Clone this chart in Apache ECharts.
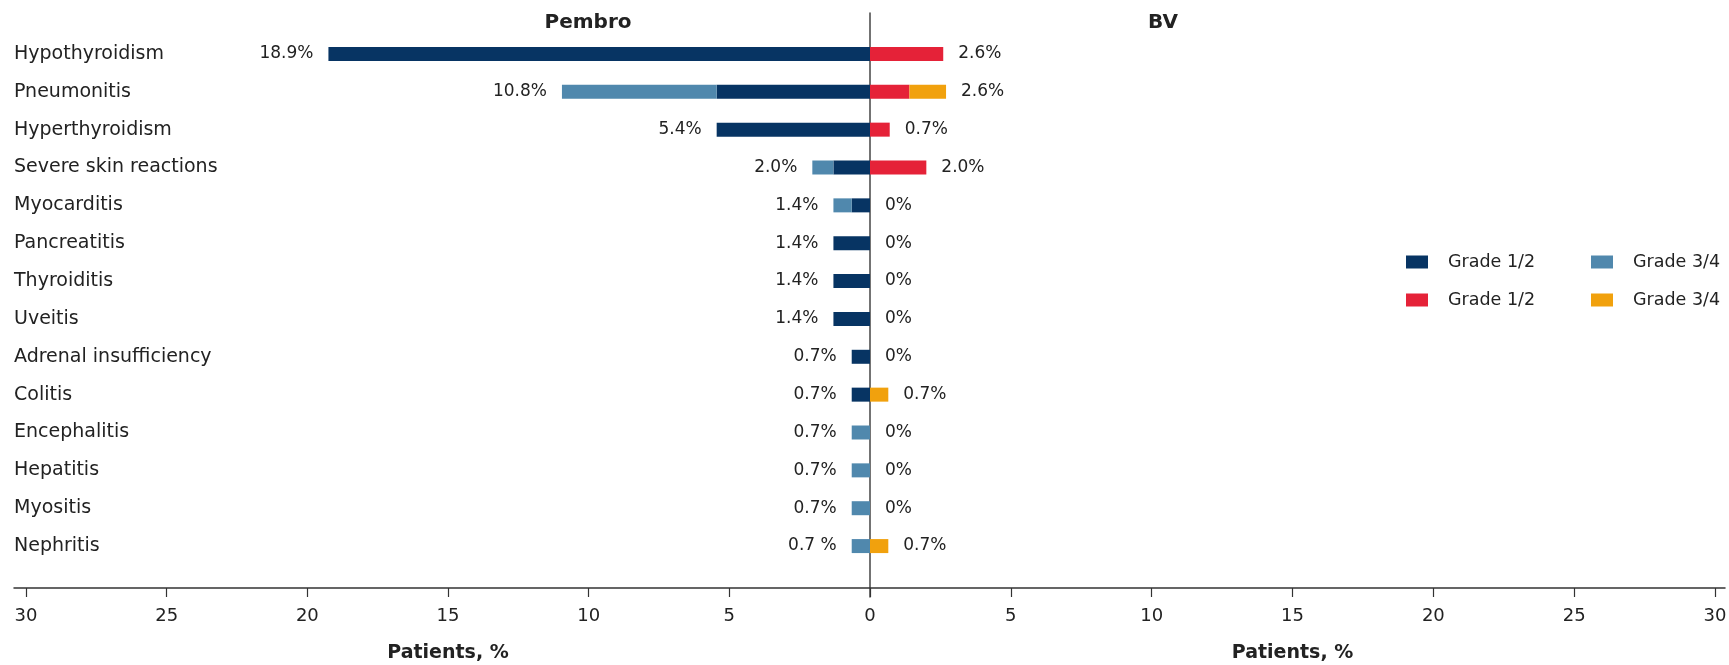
<!DOCTYPE html>
<html>
<head>
<meta charset="utf-8">
<script src="https://cdn.jsdelivr.net/npm/echarts@6/dist/echarts.min.js"></script>
<style>
html,body{margin:0;padding:0;background:#fff;}
#c{width:1729px;height:665px;}
</style>
</head>
<body>
<div id="c"></div>
<script>
var categories = ['Hypothyroidism','Pneumonitis','Hyperthyroidism','Severe skin reactions','Myocarditis','Pancreatitis','Thyroiditis','Uveitis','Adrenal insufficiency','Colitis','Encephalitis','Hepatitis','Myositis','Nephritis'];
var pembroG12 = [19.25, 5.45, 5.45, 1.3, 0.65, 1.3, 1.3, 1.3, 0.65, 0.65, 0, 0, 0, 0];
var pembroG34 = [0, 5.5, 0, 0.75, 0.65, 0, 0, 0, 0, 0, 0.65, 0.65, 0.65, 0.65];
var bvG12 = [2.6, 1.4, 0.7, 2.0, 0, 0, 0, 0, 0, 0, 0, 0, 0, 0];
var bvG34 = [0, 1.3, 0, 0, 0, 0, 0, 0, 0, 0.65, 0, 0, 0, 0.65];
var pembroLabels = ['18.9%','10.8%','5.4%','2.0%','1.4%','1.4%','1.4%','1.4%','0.7%','0.7%','0.7%','0.7%','0.7%','0.7 %'];
var bvLabels = ['2.6%','2.6%','0.7%','2.0%','0%','0%','0%','0%','0%','0.7%','0%','0%','0%','0.7%'];
var xTicks = [0, 5, 10, 15, 20, 25, 30];

var FONT = 'DejaVu Sans';
var TXT = '#222';
var C_NAVY = '#073463', C_LBLUE = '#5088ad', C_RED = '#e52238', C_ORANGE = '#f1a10d';
var legendNames = {P12:'Grade 1/2', P34:'Grade 3/4', B12:'Grade 1/2', B34:'Grade 3/4'};

var pembroTotal = pembroG12.map(function(v,i){return v + pembroG34[i];});
var bvTotal = bvG12.map(function(v,i){return v + bvG34[i];});

var chart = echarts.init(document.getElementById('c'));
var BW = 14;
var gridTop = 35, gridBottom = 100;

function valueAxis(idx, inverse, showMin){
  return {
    type:'value', gridIndex: idx, min: xTicks[0], max: xTicks[xTicks.length-1], interval: 5, inverse: inverse,
    offset: 23,
    axisLine:{show:false},
    axisTick:{show:true, length:9, lineStyle:{color:'#333', width:1.2}},
    axisLabel:{margin:19, fontSize:18, color:TXT, fontFamily:FONT, showMinLabel:showMin},
    splitLine:{show:false},
    name:'Patients, %', nameLocation:'middle', nameGap:56,
    nameTextStyle:{fontSize:19, fontWeight:'bold', color:TXT, fontFamily:FONT}
  };
}

var legendCommon = {orient:'vertical', top:253, padding:0, itemWidth:22, itemHeight:13, itemGap:20, icon:'rect',
  formatter:function(n){return legendNames[n];}, selectedMode:false,
  textStyle:{fontSize:17.5, color:TXT, fontFamily:FONT, padding:[0,0,0,15]}};

chart.setOption({
  animation:false,
  backgroundColor:'#fff',
  title:[
    {text:'Pembro', left:583, top:8, textAlign:'center', textStyle:{fontSize:20, fontWeight:'bold', color:TXT, fontFamily:FONT}},
    {text:'BV', left:1158, top:8, textAlign:'center', textStyle:{fontSize:20, fontWeight:'bold', color:TXT, fontFamily:FONT}}
  ],
  legend:[
    Object.assign({left:1406, data:['P12','B12']}, legendCommon),
    Object.assign({left:1591, data:['P34','B34']}, legendCommon)
  ],
  grid:[
    {left:26, width:844, top:gridTop, bottom:gridBottom, outerBoundsMode:'none', containLabel:false},
    {left:870, width:845, top:gridTop, bottom:gridBottom, outerBoundsMode:'none', containLabel:false},
    {left:14, right:4, top:13, bottom:77, outerBoundsMode:'none', containLabel:false},
    {left:870, width:10, top:13, bottom:68, outerBoundsMode:'none', containLabel:false}
  ],
  xAxis:[
    valueAxis(0, true, true),
    valueAxis(1, false, false),
    {type:'value', gridIndex:2, min:0, max:1, axisLine:{show:true, lineStyle:{color:'#333', width:1.5}}, axisTick:{show:false}, axisLabel:{show:false}, splitLine:{show:false}},
    {type:'value', gridIndex:3, show:false, min:0, max:1}
  ],
  yAxis:[
    {type:'category', gridIndex:0, data:categories, inverse:true,
     axisLine:{show:false}, axisTick:{show:false},
     axisLabel:{align:'left', margin:12, fontSize:19, color:TXT, fontFamily:FONT}},
    {type:'category', gridIndex:1, data:categories, inverse:true, show:false},
    {type:'value', gridIndex:2, show:false, min:0, max:1},
    {type:'value', gridIndex:3, min:0, max:1, axisLine:{show:true, lineStyle:{color:'#444', width:1.5}}, axisTick:{show:false}, axisLabel:{show:false}, splitLine:{show:false}}
  ],
  series:[
    {name:'P12', type:'bar', xAxisIndex:0, yAxisIndex:0, stack:'p', barWidth:BW, data:pembroG12, itemStyle:{color:C_NAVY}},
    {name:'P34', type:'bar', xAxisIndex:0, yAxisIndex:0, stack:'p', barWidth:BW, data:pembroG34, itemStyle:{color:C_LBLUE}},
    {name:'pLab', type:'bar', xAxisIndex:0, yAxisIndex:0, barWidth:BW, barGap:'-100%', data:pembroTotal, itemStyle:{color:'rgba(0,0,0,0)'},
     label:{show:true, position:'left', distance:15, fontSize:17, color:TXT, fontFamily:FONT, formatter:function(p){return pembroLabels[p.dataIndex];}}},
    {name:'B12', type:'bar', xAxisIndex:1, yAxisIndex:1, stack:'b', barWidth:BW, data:bvG12, itemStyle:{color:C_RED}},
    {name:'B34', type:'bar', xAxisIndex:1, yAxisIndex:1, stack:'b', barWidth:BW, data:bvG34, itemStyle:{color:C_ORANGE}},
    {name:'bLab', type:'bar', xAxisIndex:1, yAxisIndex:1, barWidth:BW, barGap:'-100%', data:bvTotal, itemStyle:{color:'rgba(0,0,0,0)'},
     label:{show:true, position:'right', distance:15, fontSize:17, color:TXT, fontFamily:FONT, formatter:function(p){return bvLabels[p.dataIndex];}}}
  ]
});
</script>
</body>
</html>
